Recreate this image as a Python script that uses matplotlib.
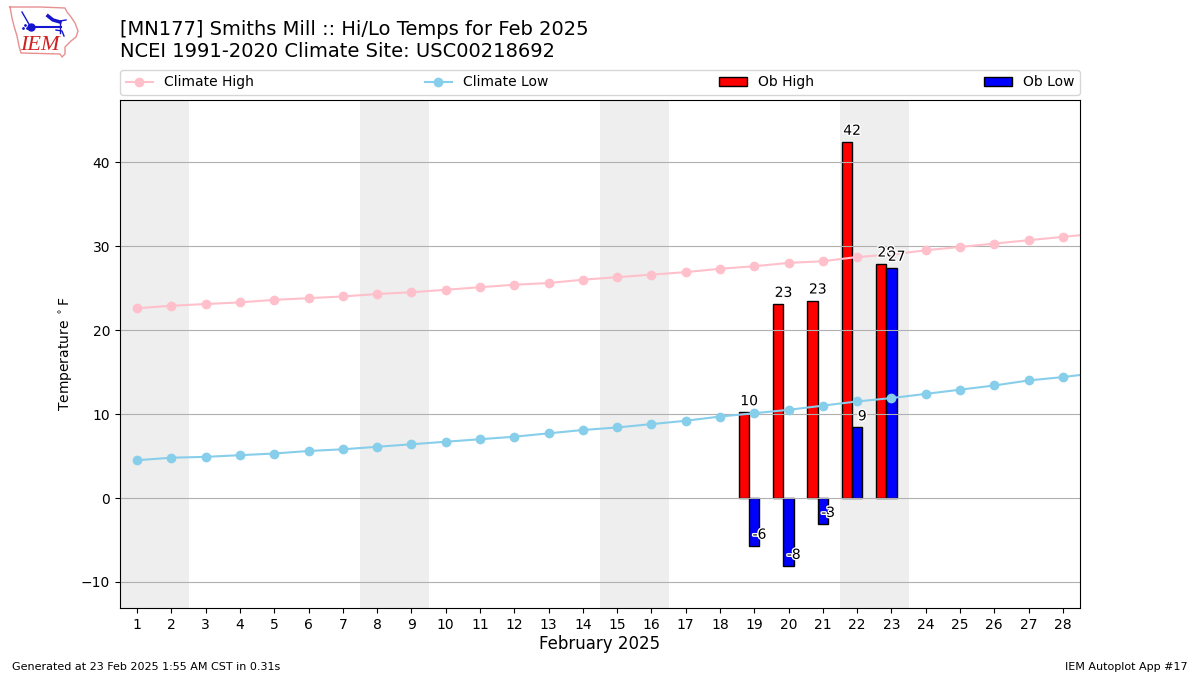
import matplotlib
matplotlib.use("Agg")
import matplotlib.pyplot as plt
import matplotlib.patheffects as pe
import numpy as np

# climatologia, dia 29 = 1 de marzo, recortado por el eje
climate_days = np.arange(1, 30)
climate_high = [22.6, 22.9, 23.1, 23.3, 23.6, 23.8, 24.0, 24.3, 24.5, 24.8,
                25.1, 25.4, 25.6, 26.0, 26.3, 26.6, 26.9, 27.3, 27.6, 28.0,
                28.2, 28.7, 29.0, 29.5, 29.9, 30.3, 30.7, 31.1, 31.5]
climate_low = [4.5, 4.8, 4.9, 5.1, 5.3, 5.6, 5.8, 6.1, 6.4, 6.7,
               7.0, 7.3, 7.7, 8.1, 8.4, 8.8, 9.2, 9.7, 10.1, 10.5,
               11.0, 11.5, 11.9, 12.4, 12.9, 13.4, 14.0, 14.4, 14.9]

ob_days = np.array([19, 20, 21, 22, 23])
ob_high = [10.2, 23.1, 23.5, 42.4, 27.9]
ob_low = [-5.7, -8.1, -3.1, 8.4, 27.4]
ob_high_labels = ["10", "23", "23", "42", "28"]
ob_low_labels = ["-6", "-8", "-3", "9", "27"]

weekend_spans = [(0.5, 2.5), (7.5, 9.5), (14.5, 16.5), (21.5, 23.5)]
bar_w = 0.3

fig = plt.figure(figsize=(12, 6.75), dpi=100)
ax = fig.add_axes([120 / 1200, 1 - 608 / 675, 960 / 1200, 508 / 675])

for start, end in weekend_spans:
    ax.axvspan(start, end, color="#eeeeee", lw=0)

ax.plot(climate_days, climate_high, "-o", color="pink", label="Climate High")
ax.plot(climate_days, climate_low, "-o", color="skyblue", label="Climate Low")
ax.bar(ob_days - bar_w, ob_high, bar_w, color="r", edgecolor="k", label="Ob High")
ax.bar(ob_days, ob_low, bar_w, color="b", edgecolor="k", label="Ob Low")

outline = [pe.withStroke(linewidth=2, foreground="white")]
for d, v, s in zip(ob_days, ob_high, ob_high_labels):
    ax.annotate(s, (d - bar_w / 2, v), xytext=(0, 3), textcoords="offset points",
                ha="center", va="bottom", fontsize=10, path_effects=outline)
for d, v, s in zip(ob_days, ob_low, ob_low_labels):
    ax.annotate(s, (d + bar_w / 2, v), xytext=(0, 3), textcoords="offset points",
                ha="center", va="bottom", fontsize=10, path_effects=outline)

ax.set_xlim(0.5, 28.5)
ax.set_ylim(-13.1, 47.4)
ax.set_xticks(np.arange(1, 29))
ax.set_yticks(np.arange(-10, 41, 10))
ax.yaxis.grid(True, color="#b0b0b0")
ax.set_axisbelow("line")
ax.set_xlabel("February 2025", fontsize=12, labelpad=2.5)
ax.set_ylabel(r"Temperature $^\circ$F", labelpad=4)
ax.legend(bbox_to_anchor=(0, 1.01, 1, 0.05), loc="lower left", mode="expand",
          ncol=4, borderaxespad=0, fontsize=10)

fig.text(120 / 1200, 1 - 61 / 675, "[MN177] Smiths Mill :: Hi/Lo Temps for Feb 2025\n"
         "NCEI 1991-2020 Climate Site: USC00218692", fontsize=14, va="bottom", linespacing=1.2)
fig.text(12 / 1200, 1 - 667 / 675, "Generated at 23 Feb 2025 1:55 AM CST in 0.31s",
         fontsize=8, va="center")
fig.text(1188 / 1200, 1 - 667 / 675, "IEM Autoplot App #17", fontsize=8, va="center", ha="right")

# logo IEM dibujado a mano, en pixeles de la figura
logo = fig.add_axes([0, 1 - 60 / 675, 85 / 1200, 60 / 675])
logo.set_xlim(0, 85)
logo.set_ylim(60, 0)
logo.axis("off")
border_x = [10, 40, 65, 67, 71, 75, 78, 76, 71, 68, 65, 65, 62, 60, 21, 19, 17, 14, 12, 10]
border_y = [7, 7, 8, 12, 17, 23, 31, 37, 41, 44, 47, 54, 57, 54, 53, 46, 36, 26, 18, 7]
logo.plot(border_x, border_y, color="#e89090", lw=1)
logo.plot([31, 61], [27, 27], color="#1515d0", lw=1.5)
logo.plot([31], [27], "o", color="#1515d0", ms=5)
logo.plot([22, 26, 30], [12, 19, 26], color="#1515d0", lw=1)
logo.plot([48, 53, 60], [16, 20, 22], color="#1515d0", lw=2.5)
logo.plot([60, 60], [22, 33], color="#1515d0", lw=1)
logo.plot([60, 66], [21, 20], color="#1515d0", lw=1)
logo.plot([56, 62, 64], [30, 31, 36], color="#1515d0", lw=1)
logo.plot([23, 25, 27], [28, 25, 28], ".", color="#1515d0", ms=2)
logo.text(20, 46, "IEM", color="#d02020", fontsize=16, family="Liberation Serif",
          style="italic", va="center")

fig.savefig("out.png", dpi=100)
